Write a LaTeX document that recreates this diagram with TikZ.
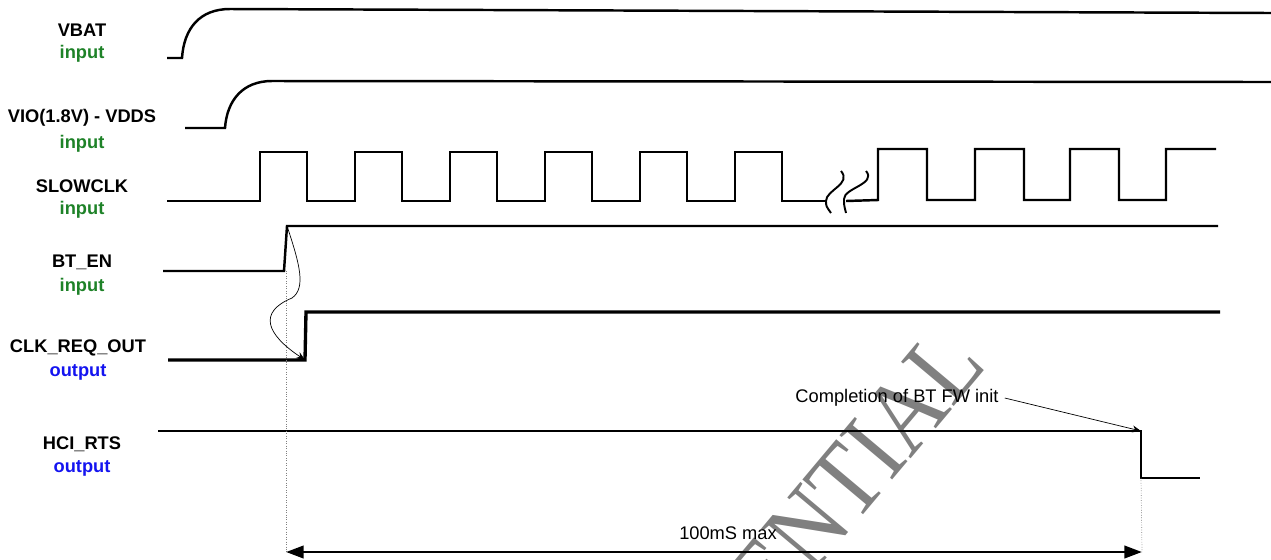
\documentclass[tikz,border=0pt]{standalone}
\usepackage{fontspec}
\setmainfont{Liberation Sans}
\newfontfamily\wmfont{Liberation Serif}
\usetikzlibrary{arrows.meta,positioning}
\definecolor{ingreen}{RGB}{30,130,40}
\definecolor{outblue}{RGB}{20,20,240}
\definecolor{wmgray}{RGB}{128,128,128}

\begin{document}
\begin{tikzpicture}[x=0.02cm, y=-0.02cm, font=\fontsize{10.4}{12}\selectfont,
  sig/.style={line width=1.4pt, line join=miter},
  signame/.style={font=\fontsize{10.4}{12}\selectfont\bfseries, inner sep=0pt},
  sigin/.style={font=\fontsize{10.4}{12}\selectfont\bfseries, inner sep=0pt, ingreen},
  sigout/.style={font=\fontsize{10.4}{12}\selectfont\bfseries, inner sep=0pt, outblue},
  tick/.style={densely dotted, gray, thin}]
\useasboundingbox (0,0) rectangle (1271,559);
% watermark
\node[wmgray, rotate=50, yscale=1.15, font=\wmfont\fontsize{52}{54}\selectfont] (wmark) at (856,470) {ENTIAL};
% signal names
\node[signame] (vbat) at (82,30) {VBAT};
\node[sigin, below=4.5pt of vbat] (vbatT) {input};
\node[signame] (vio) at (82,118) {VIO(1.8V) - VDDS};
\node[sigin, below=4.5pt of vio] (vioT) {input};
\node[signame] (slowclk) at (82,186) {SLOWCLK};
\node[sigin, below=4.5pt of slowclk] (slowclkT) {input};
\node[signame] (bten) at (82,262) {BT\_EN};
\node[sigin, below=4.5pt of bten] (btenT) {input};
\node[signame] (clkreq) at (78,348) {CLK\_REQ\_OUT};
\node[sigout, below=4.5pt of clkreq] (clkreqT) {output};
\node[signame] (hcirts) at (82,444) {HCI\_RTS};
\node[sigout, below=4.5pt of hcirts] (hcirtsT) {output};
% supplies
\draw[sig] (167,58) -- (182,58) .. controls (184,28) and (200,9) .. (230,9) -- (1271,13);
\draw[sig] (185,128) -- (225,128) .. controls (227,100) and (243,81) .. (272,81) -- (1271,82);
% slow clock with break
\draw[sig] (167,201) \foreach \r in {260,355,450,545,640,735} {
  -- (\r,201) -- (\r,152) -- (\r+47,152) -- (\r+47,201) } -- (826,201);
\draw[sig] (846,201) \foreach \r in {878,975,1070} {
  -- (\r,200) -- (\r,149) -- (\r+49,149) -- (\r+49,200) } -- (1166,200) -- (1166,149) -- (1216,149);
\draw[line width=1.1pt] (841,171) .. controls (852,184) and (826,190) .. (826,201) .. controls (826,206) .. (831,213);
\draw[line width=1.1pt] (866,171) .. controls (877,184) and (844,188) .. (844,199) .. controls (844,205) .. (846,213);
% BT_EN and CLK_REQ_OUT
\coordinate (enlow) at (284,271);
\coordinate (enup) at (287,226);
\coordinate (reqlow) at (305,360);
\draw[sig] (163,271) -- (enlow) -- (enup) -- (1218,226);
\draw[sig, line width=1.9pt] (168,360) -- (reqlow) -- (306,312) -- (1220,312);
\draw[thin, -{Stealth[length=5pt, width=4pt]}] (enup) .. controls (300,265) and (306,288) .. (292,298)
  .. controls (258,312) and (266,334) .. (reqlow);
% HCI_RTS
\coordinate (rtsfall) at (1141,431);
\coordinate (rtslow) at (1141,478);
\draw[sig] (158,431) -- (rtsfall) -- (rtslow) -- (1200,478);
\node (fwinit) at (897,398) {Completion of BT FW init};
\draw[thin, -{Stealth[length=5pt, width=4pt]}] (fwinit.east) -- (rtsfall);
% 100mS window
\coordinate (t0) at (286,552);
\coordinate (t1) at (1142,552);
\draw[tick] (t0 |- enlow) -- (t0);
\draw[tick] (rtslow) -- (t1);
\draw[line width=1.6pt, {Triangle[length=10pt, width=7pt]}-{Triangle[length=10pt, width=7pt]}] (t0) -- (t1);
\node (window) at (728,533) {100mS max};
\end{tikzpicture}
\end{document}
